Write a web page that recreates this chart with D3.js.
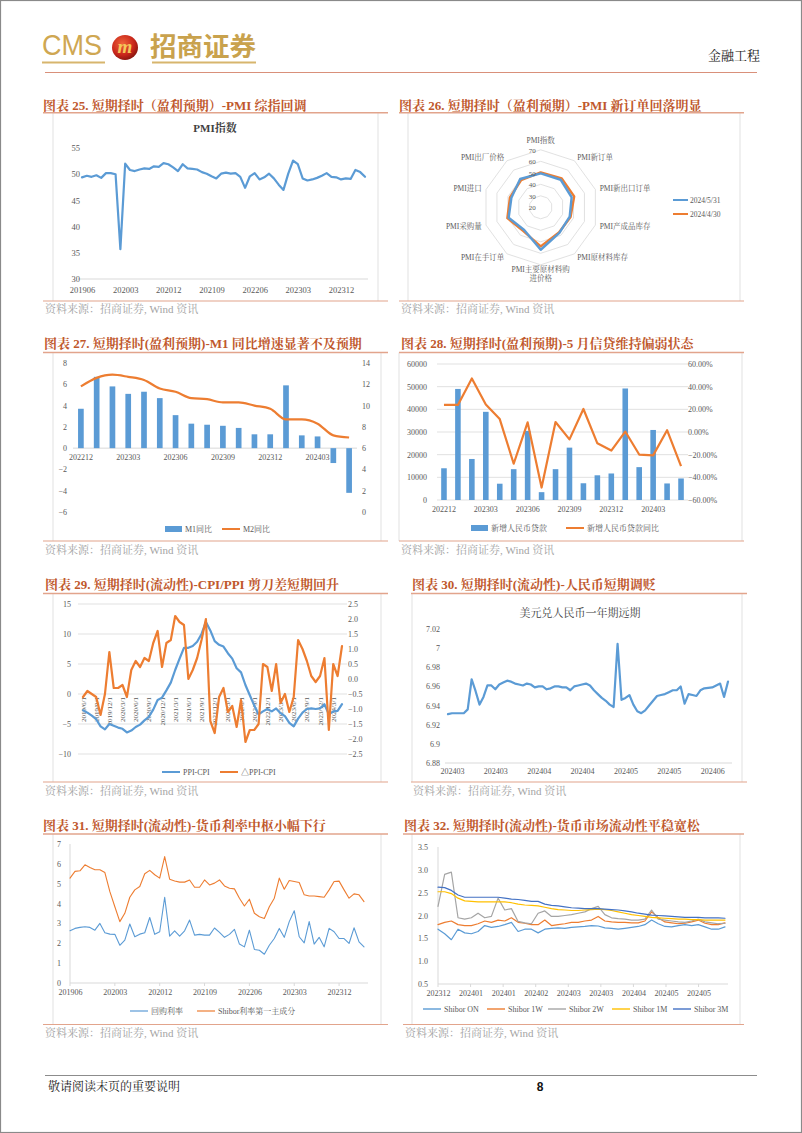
<!DOCTYPE html>
<html lang="zh"><head><meta charset="utf-8"><title>招商证券 金融工程</title>
<script src="https://cdn.jsdelivr.net/npm/d3@7/dist/d3.min.js"></script>
<style>html,body{margin:0;padding:0;background:#fff}svg{display:block}</style>
</head><body><svg id="page" width="802" height="1133"></svg>
<script>
// ---------------- DATA ----------------
// Chart 25: PMI index, monthly 201906-202405
const pmiValues = [49.4,49.7,49.5,49.8,49.3,50.2,50.2,
 50.0,35.7,52.0,50.8,50.6,50.9,51.1,51.0,51.5,51.4,52.1,51.9,
 51.3,50.6,51.9,51.1,51.0,50.9,50.4,50.1,49.6,49.2,50.1,50.3,
 50.1,50.2,49.5,47.4,49.6,50.2,49.0,49.4,50.1,49.2,48.0,47.0,
 50.1,52.6,51.9,49.2,48.8,49.0,49.3,49.7,50.2,49.5,49.4,49.0,
 49.2,49.1,50.8,50.4,49.5];
const pmiTickLabels = ["201906","202003","202012","202109","202206","202303","202312"];
const pmiYTicks = [30,35,40,45,50,55];

// Chart 26: PMI radar
const radarAxes = ["PMI指数","PMI新订单","PMI新出口订单","PMI产成品库存","PMI原材料库存","PMI主要原材料购进价格","PMI在手订单","PMI采购量","PMI进口","PMI出厂价格"];
const radarMay = [49.5,49.6,48.3,46.5,47.6,56.9,44.4,49.3,46.8,50.4];
const radarApr = [50.4,51.1,50.6,47.3,47.0,54.0,45.6,50.5,48.1,49.1];
const radarSeries = ["2024/5/31","2024/4/30"];
const radarRings = [30,40,50,60,70];
const radarRingLabels = [20,30,40,50,60,70];

// Chart 27: M1 / M2
const moneyMonths = ["202212","202301","202302","202303","202304","202305","202306","202307","202308","202309","202310","202311","202312","202401","202402","202403","202404","202405"];
const m1Yoy = [3.7,6.7,5.8,5.1,5.3,4.7,3.1,2.3,2.2,2.1,1.9,1.3,1.3,5.9,1.2,1.1,-1.4,-4.2];
const m2Yoy = [11.8,12.6,12.9,12.7,12.4,11.6,11.3,10.7,10.6,10.3,10.3,10.0,9.7,8.7,8.7,8.3,7.2,7.0];
const m1LeftTicks = [-6,-4,-2,0,2,4,6,8];
const m2RightTicks = [0,2,4,6,8,10,12,14];
const moneyTickLabels = ["202212","202303","202306","202309","202312","202403"];

// Chart 28: new RMB loans
const newLoans = [14000,49000,18100,38900,7188,13600,30500,3459,13600,23100,7384,10900,11700,49200,14500,30900,7300,9500];
const newLoansYoy = [0.239,0.239,0.472,0.243,0.114,-0.28,0.085,-0.49,0.088,-0.065,0.203,-0.10,-0.164,0.004,-0.199,-0.206,0.016,-0.301];
const loanLeftTicks = [0,10000,20000,30000,40000,50000,60000];
const loanRightTicks = [-0.6,-0.4,-0.2,0,0.2,0.4,0.6];

// Chart 29: PPI-CPI
const ppiCpi = [-2.7,-3.1,-3.6,-4.2,-5.4,-5.9,-5.0,
 -5.3,-5.6,-5.8,-6.4,-6.1,-5.5,-5.1,-4.4,-3.8,-2.6,-1.0,-0.6,
 0.6,1.9,4.0,5.9,7.7,7.7,8.0,8.7,10.0,12.0,10.6,8.8,
 8.2,7.9,6.8,5.9,4.3,3.6,1.5,-0.2,-1.9,-3.4,-2.9,-2.5,
 -2.9,-2.4,-3.2,-3.7,-4.8,-5.4,-4.1,-3.1,-2.5,-2.4,-2.5,-2.4,
 -1.7,-3.4,-2.9,-2.8,-1.7];
const dPpiCpi = [-0.6,-0.4,-0.5,-0.6,-1.2,-0.5,0.9,
 -0.3,-0.3,-0.2,-0.6,0.3,0.6,0.4,0.7,0.6,1.2,1.6,0.4,
 1.2,1.3,2.1,1.9,1.8,0.0,0.3,0.7,1.3,2.0,-1.4,-1.8,
 -0.6,-0.3,-1.1,-0.9,-1.6,-0.7,-2.1,-1.7,-1.7,-1.5,0.5,0.4,
 -0.4,0.5,-0.8,-0.5,-1.1,-0.6,1.3,1.0,0.6,0.1,-0.1,0.1,
 0.7,-1.7,0.5,0.1,1.1];
const scissorDateLabels = ["2019/6/1","2019/9/1","2019/12/1","2020/3/1","2020/6/1","2020/9/1","2020/12/1","2021/3/1","2021/6/1","2021/9/1","2021/12/1","2022/3/1","2022/6/1","2022/9/1","2022/12/1","2023/3/1","2023/6/1","2023/9/1","2023/12/1","2024/3/1"];
const scissorLeftTicks = [-10,-5,0,5,10,15];
const scissorRightTicks = [-2.5,-2,-1.5,-1,-0.5,0,0.5,1,1.5,2,2.5];

// Chart 30: USD/CNY 1Y forward (daily)
const fwdRate = [6.931,6.932,6.932,6.932,6.932,6.936,6.9675,6.955,6.941,6.949,
 6.961,6.961,6.957,6.962,6.964,6.966,6.965,6.963,6.962,6.961,
 6.963,6.962,6.959,6.960,6.960,6.957,6.958,6.960,6.960,6.959,
 6.959,6.956,6.960,6.961,6.962,6.963,6.961,6.956,6.952,6.948,
 6.945,6.941,6.9385,7.0046,6.946,6.948,6.951,6.941,6.934,6.932,
 6.935,6.940,6.945,6.950,6.951,6.952,6.954,6.956,6.956,6.960,
 6.942,6.952,6.951,6.950,6.956,6.958,6.9585,6.959,6.961,6.963,
 6.949,6.965];
const fwdTickLabels = ["202403","202403","202404","202404","202405","202405","202406"];
const fwdYTicks = [6.88,6.9,6.92,6.94,6.96,6.98,7.0,7.02];

// Chart 31: repo rate and Shibor PC1 (monthly 201906-202405)
const repoRate = [2.63,2.75,2.8,2.83,2.8,2.66,3.0,2.53,2.46,2.45,
 1.9,2.16,2.97,2.33,2.46,2.53,3.3,2.45,2.58,4.32,
 2.36,2.63,2.36,2.63,3.17,2.41,2.45,2.41,2.41,2.77,
 2.55,2.3,2.45,2.7,1.96,1.82,2.66,1.69,1.65,1.45,
 1.9,2.24,2.75,2.3,3.09,3.64,2.33,2.02,3.09,1.96,
 2.3,1.82,2.75,2.58,2.24,2.24,1.99,2.78,2.07,1.82];
const shiborPc1 = [5.28,5.62,5.65,5.95,5.82,5.7,5.7,5.56,4.6,3.84,
 3.09,3.51,4.32,4.69,4.86,5.5,5.67,5.45,5.28,6.37,
 5.23,5.14,5.08,5.08,5.19,4.82,4.82,5.19,4.94,5.03,
 5.19,4.89,4.77,4.74,4.27,3.88,4.22,3.51,3.34,3.25,
 3.84,4.27,5.28,4.72,5.16,5.11,5.06,4.44,4.38,4.38,
 4.35,4.32,4.69,5.11,5.13,4.69,4.27,4.49,4.44,4.1];
const rateTickLabels = ["201906","202003","202012","202109","202206","202303","202312"];
const rateYTicks = [0,1,2,3,4,5,6,7];

// Chart 32: Shibor tenors
const shiborON = [1.70,1.60,1.47,1.70,1.62,1.60,1.65,1.78,1.74,1.76,1.80,1.85,1.65,1.70,1.70,1.62,1.70,1.72,1.73,1.72,1.74,1.75,1.76,1.78,1.77,1.73,1.72,1.70,1.72,1.74,1.76,1.80,1.90,1.82,1.76,1.75,1.78,1.80,1.78,1.80,1.75,1.70,1.70,1.75];
const shibor1W = [1.80,1.85,1.88,1.80,1.78,1.78,1.82,1.88,1.85,1.90,1.88,1.95,1.85,1.83,1.80,1.80,1.90,1.78,1.80,1.82,1.85,1.85,1.88,1.90,1.98,1.88,1.86,1.85,1.85,1.84,1.84,1.88,2.08,1.95,1.86,1.84,1.82,1.83,1.86,1.90,1.83,1.80,1.80,1.84];
const shibor2W = [2.20,2.90,2.95,1.95,1.92,1.95,2.05,1.95,1.98,2.38,2.12,2.15,1.87,1.84,1.82,2.05,2.10,1.98,1.98,2.00,2.02,2.05,2.08,2.15,2.20,2.02,1.95,1.93,1.92,1.90,1.90,1.92,2.12,1.92,1.90,1.88,1.86,1.85,1.88,1.92,1.86,1.84,1.82,1.83];
const shibor1M = [2.52,2.52,2.48,2.38,2.32,2.31,2.30,2.30,2.30,2.30,2.30,2.28,2.25,2.23,2.22,2.21,2.18,2.15,2.13,2.12,2.11,2.11,2.12,2.13,2.14,2.13,2.11,2.08,2.05,2.02,2.00,1.98,1.96,1.95,1.94,1.93,1.92,1.92,1.91,1.91,1.90,1.90,1.90,1.90];
const shibor3M = [2.62,2.61,2.55,2.45,2.40,2.40,2.40,2.40,2.40,2.40,2.38,2.36,2.35,2.33,2.31,2.31,2.25,2.22,2.21,2.19,2.17,2.16,2.15,2.15,2.15,2.14,2.13,2.12,2.10,2.08,2.05,2.03,2.01,2.00,1.99,1.98,1.97,1.96,1.96,1.96,1.95,1.95,1.95,1.94];
const shiborNames = ["Shibor ON","Shibor 1W","Shibor 2W","Shibor 1M","Shibor 3M"];
const shiborTickLabels = ["202312","202401","202401","202402","202403","202403","202404","202405","202405"];
const shiborYTicks = [0.5,1.0,1.5,2.0,2.5,3.0,3.5];

// Titles
const chartTitles = [
 "图表 25. 短期择时（盈利预期）-PMI 综指回调",
 "图表 26. 短期择时（盈利预期）-PMI 新订单回落明显",
 "图表 27. 短期择时(盈利预期)-M1 同比增速显著不及预期",
 "图表 28. 短期择时(盈利预期)-5 月信贷维持偏弱状态",
 "图表 29. 短期择时(流动性)-CPI/PPI 剪刀差短期回升",
 "图表 30. 短期择时(流动性)-人民币短期调贬",
 "图表 31. 短期择时(流动性)-货币利率中枢小幅下行",
 "图表 32. 短期择时(流动性)-货币市场流动性平稳宽松"];
const sourceText = "资料来源：招商证券, Wind 资讯";

// ---------------- DRAW ----------------
const FONT = '"Liberation Serif","Times New Roman","Noto Serif CJK SC","Noto Sans CJK SC",serif';
const svg = d3.select("#page").attr("font-family", FONT);
const TXT = "#595959", GRID = "#D9D9D9";
const BLUE = "#5B9BD5", ORANGE = "#ED7D31", GRAY = "#A5A5A5", YELLOW = "#FFC000", NAVY = "#4472C4";
const TITLE = "#C0582C", RULE = "#E2A48C";

function txt(x, y, s, o = {}) {
  return svg.append("text").attr("x", x).attr("y", y).text(s)
    .attr("font-size", o.size || 8).attr("fill", o.fill || TXT)
    .attr("text-anchor", o.anchor || "start").attr("font-weight", o.weight || "normal")
    .attr("font-family", o.family || FONT);
}
function line(x1, y1, x2, y2, stroke, w) {
  return svg.append("line").attr("x1", x1).attr("y1", y1).attr("x2", x2).attr("y2", y2)
    .attr("stroke", stroke).attr("stroke-width", w || 1);
}
function yAxis(scale, ticks, fmt, xPos, side, size) {
  const ax = (side === "left" ? d3.axisLeft(scale) : d3.axisRight(scale))
    .tickValues(ticks).tickSize(0).tickPadding(0).tickFormat(fmt);
  const g = svg.append("g").attr("transform", `translate(${xPos},0)`).call(ax);
  g.select(".domain").remove();
  g.attr("font-family", FONT).attr("font-size", size || 8);
  g.selectAll("text").attr("fill", TXT);
  return g;
}
function xAxis(scale, ticks, fmt, yTop, size) {
  const ax = d3.axisBottom(scale).tickValues(ticks).tickSize(0).tickPadding(0).tickFormat(fmt);
  const g = svg.append("g").attr("transform", `translate(0,${yTop})`).call(ax);
  g.select(".domain").remove();
  g.attr("font-family", FONT).attr("font-size", size || 8);
  g.selectAll("text").attr("fill", TXT);
  return g;
}
function path(data, x, y, color, w) {
  return svg.append("path").datum(data)
    .attr("d", d3.line().x((d, i) => x(i)).y(d => y(d)))
    .attr("fill", "none").attr("stroke", color).attr("stroke-width", w)
    .attr("stroke-linejoin", "round").attr("stroke-linecap", "round");
}
function legendLine(x, y, color, label, w) {
  line(x, y, x + 18, y, color, w || 2);
  txt(x + 21, y + 2.8, label, { size: 8 });
}
function legendBox(x, y, color, label) {
  svg.append("rect").attr("x", x).attr("y", y - 3).attr("width", 17).attr("height", 6).attr("fill", color);
  txt(x + 20, y + 2.8, label, { size: 8 });
}

// page border
svg.append("rect").attr("x", 0.5).attr("y", 0.5).attr("width", 801).attr("height", 1132)
  .attr("fill", "none").attr("stroke", "#8A8A8A").attr("stroke-width", 1.2);

// Header logo
txt(42, 55, "CMS", { size: 30, fill: "#CFA752", family: '"Liberation Sans Narrow","Liberation Sans",sans-serif' })
  .attr("textLength", 60).attr("lengthAdjust", "spacingAndGlyphs");
const grad = svg.append("defs").append("radialGradient").attr("id", "ball").attr("cx", "40%").attr("cy", "35%").attr("r", "65%");
grad.append("stop").attr("offset", "0%").attr("stop-color", "#F0643A");
grad.append("stop").attr("offset", "70%").attr("stop-color", "#C8261A");
grad.append("stop").attr("offset", "100%").attr("stop-color", "#8E1810");
svg.append("ellipse").attr("cx", 125).attr("cy", 47.5).attr("rx", 13).attr("ry", 12.5).attr("fill", "url(#ball)");
txt(125, 53, "m", { size: 19, fill: "#F4C85A", anchor: "middle", weight: "bold" }).attr("font-style", "italic");
txt(150, 55.5, "招商证券", { size: 26, fill: "#C9A24D", weight: "bold", family: '"Noto Sans CJK SC",sans-serif' })
  .attr("textLength", 106).attr("lengthAdjust", "spacingAndGlyphs");
line(42, 62.5, 105, 62.5, "#D7B56D", 2);
line(152, 62.5, 256, 62.5, "#D7B56D", 2);
txt(760, 59.5, "金融工程", { size: 13, fill: "#222", anchor: "end" });
line(45, 72.5, 757, 72.5, "#D9907A", 1);

// Panels
const panelRows = [
  { t: 105, u: 112.7, b: 301, s: 309 },
  { t: 343.5, u: 352.5, b: 541, s: 550 },
  { t: 584.5, u: 593.5, b: 782, s: 791 },
  { t: 825, u: 834, b: 1024.5, s: 1033 }];
const panelCols = [
  [{ tx: 43, u1: 43, u2: 388, b1: 53, b2: 378 }, { tx: 399, u1: 399, u2: 744, b1: 408, b2: 740 }],
  [{ tx: 44, u1: 43, u2: 388, b1: 53, b2: 381 }, { tx: 401, u1: 399, u2: 744, b1: 399, b2: 742 }],
  [{ tx: 45, u1: 43, u2: 388, b1: 53, b2: 381 }, { tx: 412, u1: 411, u2: 747, b1: 412, b2: 742 }],
  [{ tx: 43, u1: 43, u2: 388, b1: 53, b2: 381 }, { tx: 404, u1: 403, u2: 744, b1: 412, b2: 740 }]];
panelRows.forEach((r, ri) => {
  panelCols[ri].forEach((c, ci) => {
    line(c.b1, r.u, c.b1, r.b, GRID, 0.8);
    line(c.b2, r.u, c.b2, r.b, GRID, 0.8);
    line(c.u1, r.u, c.u2, r.u, RULE, 1.4);
    line(c.u1, r.b, c.u2, r.b, RULE, 1.2);
    txt(c.tx, r.t + 4.6, chartTitles[ri * 2 + ci], { size: 13, fill: TITLE, weight: "bold" });
    txt(c.u1 + 2, r.s + 4, sourceText, { size: 11, fill: "#A3A3A3" });
  });
});

// ---- Chart 25: PMI ----
{
  const x = d3.scaleLinear().domain([0, pmiValues.length - 1]).range([82, 365]);
  const y = d3.scaleLinear().domain([30, 55]).range([279, 148]);
  txt(215, 132, "PMI指数", { size: 11, fill: "#404040", anchor: "middle", weight: "bold" });
  line(78, y(30), 368, y(30), GRID, 1);
  yAxis(y, pmiYTicks, d3.format("d"), 80, "left", 8.5);
  xAxis(x, pmiTickLabels.map((d, i) => i * 9), i => pmiTickLabels[i / 9], 287, 8.5);
  path(pmiValues, x, y, BLUE, 2.2);
}

// ---- Chart 26: radar ----
{
  const cx = 540.7, cy = 207.3;
  const r = d3.scaleLinear().domain([20, 70]).range([0, 57.5]);
  const n = radarAxes.length;
  const ang = i => i * 2 * Math.PI / n;
  const ringGen = v => d3.lineRadial().angle((d, i) => ang(i)).radius(() => r(v)).curve(d3.curveLinearClosed)(radarAxes);
  const g = svg.append("g").attr("transform", `translate(${cx},${cy})`);
  radarRings.forEach(v => g.append("path").attr("d", ringGen(v)).attr("fill", "none").attr("stroke", GRID).attr("stroke-width", 0.8));
  radarRingLabels.forEach(v => txt(cx - 5, cy - r(v) + 2.8, v, { size: 7, anchor: "end" }));
  const radial = d3.lineRadial().angle((d, i) => ang(i)).radius(d => r(d)).curve(d3.curveLinearClosed);
  g.append("path").attr("d", radial(radarApr)).attr("fill", "none").attr("stroke", ORANGE).attr("stroke-width", 2.4).attr("stroke-linejoin", "round");
  g.append("path").attr("d", radial(radarMay)).attr("fill", "none").attr("stroke", BLUE).attr("stroke-width", 2.4).attr("stroke-linejoin", "round");
  radarAxes.forEach((name, i) => {
    const RL = i === 0 ? 66.5 : 62;
    const a = ang(i), sx = Math.sin(a), cy2 = -Math.cos(a);
    const px = cx + RL * sx, py = cy + RL * cy2;
    const anchor = sx > 0.1 ? "start" : (sx < -0.1 ? "end" : "middle");
    if (i === 5) {
      txt(px, py + 2.5, name.slice(0, 9), { size: 7.5, anchor });
      txt(px, py + 11.5, name.slice(9), { size: 7.5, anchor });
    } else {
      txt(px, py + 2.5, name, { size: 7.5, anchor });
    }
  });
  line(673, 200, 688, 200, BLUE, 2);
  txt(690, 202.5, radarSeries[0], { size: 7.5 });
  line(673, 214, 688, 214, ORANGE, 2);
  txt(690, 216.5, radarSeries[1], { size: 7.5 });
}

// ---- Chart 27: M1 / M2 ----
{
  const x = d3.scaleBand().domain(moneyMonths).range([73, 357]).paddingInner(0.64).paddingOuter(0.32);
  const yL = d3.scaleLinear().domain([-6, 8]).range([512, 363]);
  const yR = d3.scaleLinear().domain([0, 14]).range([512, 363]);
  line(73, yL(0), 357, yL(0), GRID, 1);
  yAxis(yL, m1LeftTicks, d3.format("d"), 67, "left", 8);
  yAxis(yR, m2RightTicks, d3.format("d"), 362, "right", 8);
  svg.append("g").selectAll("rect").data(m1Yoy).join("rect")
    .attr("x", (d, i) => x(moneyMonths[i])).attr("width", x.bandwidth())
    .attr("y", d => Math.min(yL(d), yL(0))).attr("height", d => Math.abs(yL(d) - yL(0)))
    .attr("fill", BLUE);
  const xs = d3.scaleBand().domain(moneyMonths).range([73, 357]);
  xAxis(xs, moneyTickLabels, d => d, 454, 8);
  svg.append("path").datum(m2Yoy)
    .attr("d", d3.line().x((d, i) => x(moneyMonths[i]) + x.bandwidth() / 2).y(d => yR(d)).curve(d3.curveMonotoneX))
    .attr("fill", "none").attr("stroke", ORANGE).attr("stroke-width", 2.2);
  legendBox(165, 529, BLUE, "M1同比");
  legendLine(222, 529, ORANGE, "M2同比", 2);
}

// ---- Chart 28: new loans ----
{
  const x = d3.scaleBand().domain(moneyMonths).range([437, 688]).paddingInner(0.6).paddingOuter(0.3);
  const yL = d3.scaleLinear().domain([0, 60000]).range([500, 364]);
  const yR = d3.scaleLinear().domain([-0.6, 0.6]).range([500, 364]);
  loanLeftTicks.forEach(v => line(437, yL(v), 688, yL(v), GRID, 0.8));
  yAxis(yL, loanLeftTicks, d3.format("d"), 427, "left", 8);
  yAxis(yR, loanRightTicks, d3.format(".2%"), 688, "right", 8);
  svg.append("g").selectAll("rect").data(newLoans).join("rect")
    .attr("x", (d, i) => x(moneyMonths[i])).attr("width", x.bandwidth())
    .attr("y", d => yL(d)).attr("height", d => yL(0) - yL(d)).attr("fill", BLUE);
  const xs = d3.scaleBand().domain(moneyMonths).range([437, 688]);
  xAxis(xs, moneyTickLabels, d => d, 506, 8);
  svg.append("path").datum(newLoansYoy)
    .attr("d", d3.line().x((d, i) => x(moneyMonths[i]) + x.bandwidth() / 2).y(d => yR(d)))
    .attr("fill", "none").attr("stroke", ORANGE).attr("stroke-width", 2.2).attr("stroke-linejoin", "round");
  legendBox(471, 528, BLUE, "新增人民币贷款");
  legendLine(566, 528, ORANGE, "新增人民币贷款同比", 2);
}

// ---- Chart 29: PPI-CPI ----
{
  const x = d3.scaleLinear().domain([0, ppiCpi.length - 1]).range([83, 342]);
  const yL = d3.scaleLinear().domain([-10, 15]).range([754, 604]);
  const yR = d3.scaleLinear().domain([-2.5, 2.5]).range([754, 604]);
  scissorLeftTicks.forEach(v => line(78, yL(v), 347, yL(v), GRID, 0.8));
  yAxis(yL, scissorLeftTicks, d3.format("d"), 71, "left", 8);
  yAxis(yR, scissorRightTicks, d3.format(".1f"), 348, "right", 8);
  svg.append("g").selectAll("text").data(scissorDateLabels).join("text")
    .attr("transform", (d, i) => `translate(${x(i * 3) + 2.5},${yL(0) + 3}) rotate(-90)`)
    .attr("text-anchor", "end").attr("font-size", 7).attr("fill", TXT).text(d => d);
  path(ppiCpi, x, yL, BLUE, 2.2);
  path(dPpiCpi, x, yR, ORANGE, 2.2);
  legendLine(162, 772, BLUE, "PPI-CPI", 2);
  legendLine(220, 772, ORANGE, "△PPI-CPI", 2);
}

// ---- Chart 30: USD/CNY forward ----
{
  const x = d3.scaleLinear().domain([0, fwdRate.length - 1]).range([448, 728]);
  const y = d3.scaleLinear().domain([6.88, 7.02]).range([763, 629]);
  txt(580, 616.5, "美元兑人民币一年期远期", { size: 11, fill: "#404040", anchor: "middle" });
  line(445, y(6.88), 732, y(6.88), GRID, 1);
  yAxis(y, fwdYTicks, v => String(+v.toFixed(2)), 440, "left", 8);
  xAxis(x, fwdTickLabels.map((d, i) => 1 + i * 11), i => fwdTickLabels[(i - 1) / 11], 768, 8);
  path(fwdRate, x, y, BLUE, 2.2);
}

// ---- Chart 31: money rates ----
{
  const x = d3.scaleLinear().domain([0, repoRate.length - 1]).range([70, 364]);
  const y = d3.scaleLinear().domain([0, 7]).range([983, 844]);
  line(70, 844, 70, 983, GRID, 1);
  line(70, 983, 368, 983, GRID, 1);
  rateTickLabels.forEach((d, i) => line(x(i * 9), 983, x(i * 9), 986, GRID, 1));
  yAxis(y, rateYTicks, d3.format("d"), 61, "left", 8);
  xAxis(x, rateTickLabels.map((d, i) => i * 9), i => rateTickLabels[i / 9], 989, 8);
  path(repoRate, x, y, BLUE, 1.1);
  path(shiborPc1, x, y, ORANGE, 1.1);
  legendLine(130, 1011, BLUE, "回购利率", 1.2);
  legendLine(197, 1011, ORANGE, "Shibor利率第一主成分", 1.2);
}

// ---- Chart 32: Shibor ----
{
  const x = d3.scaleLinear().domain([0, shiborON.length - 1]).range([438, 725]);
  const y = d3.scaleLinear().domain([0.5, 3.5]).range([984, 847]);
  const step = 4.88;
  line(438, 847, 438, 984, GRID, 1);
  line(438, 984, 728, 984, GRID, 1);
  shiborTickLabels.forEach((d, i) => line(x(i * step), 984, x(i * step), 987, GRID, 1));
  yAxis(y, shiborYTicks, d3.format(".1f"), 428, "left", 8);
  xAxis(x, shiborTickLabels.map((d, i) => i * step), v => shiborTickLabels[Math.round(v / step)], 990, 8);
  const series = [shiborON, shibor1W, shibor2W, shibor1M, shibor3M];
  const colors = [BLUE, ORANGE, GRAY, YELLOW, NAVY];
  series.forEach((s, i) => path(s, x, y, colors[i], 1.2));
  const lx = [423, 487, 548, 612, 673];
  shiborNames.forEach((nm, i) => legendLine(lx[i], 1009, colors[i], nm, 1.4));
}

// Footer
line(45, 1075.5, 757, 1075.5, "#8C8C8C", 1);
txt(48, 1091, "敬请阅读末页的重要说明", { size: 12, fill: "#222" });
txt(540, 1091, "8", { size: 12, fill: "#111", anchor: "middle", weight: "bold", family: '"Liberation Sans",sans-serif' });
</script>
</body></html>
